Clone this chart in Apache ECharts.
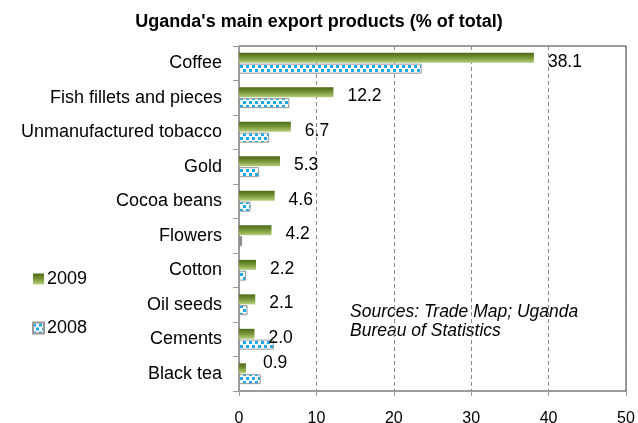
<!DOCTYPE html>
<html>
<head>
<meta charset="utf-8">
<script src="https://cdn.jsdelivr.net/npm/echarts@6/dist/echarts.min.js"></script>
<style>
  html, body { margin: 0; padding: 0; background: #fff; }
  #chart { width: 638px; height: 423px; }
</style>
</head>
<body>
<div id="chart"></div>
<script>
// Uganda's main export products, share of total exports (%)
const categories = [
  'Coffee', 'Fish fillets and pieces', 'Unmanufactured tobacco', 'Gold',
  'Cocoa beans', 'Flowers', 'Cotton', 'Oil seeds', 'Cements', 'Black tea'
];
const values2009 = [38.1, 12.2, 6.7, 5.3, 4.6, 4.2, 2.2, 2.1, 2.0, 0.9];
const values2008 = [23.6, 6.5, 3.9, 2.6, 1.5, 0.4, 0.9, 1.1, 4.5, 2.8];
const xTicks = [0, 10, 20, 30, 40, 50];
const sourceNote = 'Sources: Trade Map; Uganda\nBureau of Statistics';

const FONT = '"Liberation Sans", Arial, sans-serif';

// Dotted fill for the 2008 bars: staggered blue squares on white
function dotPattern() {
  const c = document.createElement('canvas');
  c.width = 6; c.height = 8;
  const g = c.getContext('2d');
  g.fillStyle = '#ffffff';
  g.fillRect(0, 0, 6, 8);
  g.fillStyle = '#1aa8ef';
  g.fillRect(0, 1, 3, 3);
  g.fillRect(3, 5, 3, 3);
  return c;
}

const greenFill = new echarts.graphic.LinearGradient(0, 0, 0, 1, [
  { offset: 0, color: '#4b6817' },
  { offset: 0.5, color: '#7a9838' },
  { offset: 1, color: '#b6d07f' }
]);

const chart = echarts.init(document.getElementById('chart'), null, { renderer: 'canvas' });

const data2009 = values2009.map((v, i) => {
  const item = { value: v };
  if (categories[i] === 'Black tea') {
    item.label = { offset: [3, -5] };
  }
  return item;
});

const data2008 = values2008.map((v, i) => {
  const item = { value: v };
  if (categories[i] === 'Flowers') {
    item.itemStyle = { color: '#8c8c8c', borderColor: '#8c8c8c' };
  }
  return item;
});

chart.setOption({
  animation: false,
  textStyle: { fontFamily: FONT },
  title: {
    text: "Uganda's main export products (% of total)",
    left: 'center',
    top: 8,
    textStyle: { fontFamily: FONT, fontSize: 18, fontWeight: 'bold', color: '#000' }
  },
  legend: {
    orient: 'vertical',
    left: 27,
    top: 265,
    itemGap: 31,
    itemWidth: 11,
    itemHeight: 11,
    icon: 'rect',
    data: ['2009', '2008'],
    textStyle: { fontFamily: FONT, fontSize: 18, color: '#000', padding: [0, 0, 0, -2] }
  },
  grid: {
    left: 239,
    right: 12,
    top: 46,
    bottom: 32,
    show: true,
    borderColor: '#3a3a3a',
    borderWidth: 1,
    containLabel: false,
    outerBoundsMode: 'none'
  },
  xAxis: {
    type: 'value',
    min: 0,
    max: 50,
    interval: 10,
    axisLine: { show: true, lineStyle: { color: '#9a9a9a' } },
    axisTick: { show: true, length: 5, lineStyle: { color: '#9a9a9a' } },
    axisLabel: {
      margin: 20,
      fontSize: 16,
      color: '#000',
      fontFamily: FONT,
      formatter: v => (xTicks.indexOf(v) >= 0 ? String(v) : '')
    },
    splitLine: { show: true, lineStyle: { color: '#8a8a8a', type: [4, 3] } }
  },
  yAxis: {
    type: 'category',
    data: categories,
    inverse: true,
    axisLine: { show: true, lineStyle: { color: '#9a9a9a' } },
    axisTick: { show: true, length: 6, lineStyle: { color: '#9a9a9a' } },
    axisLabel: { margin: 17, fontSize: 18, color: '#000', fontFamily: FONT, padding: [0, 0, 4, 0] }
  },
  series: [
    {
      name: '2009',
      type: 'bar',
      barWidth: 10,
      barGap: '8%',
      data: data2009,
      itemStyle: { color: greenFill },
      label: {
        show: true,
        position: 'right',
        distance: 14,
        offset: [0, 4],
        fontSize: 17.5,
        color: '#000',
        fontFamily: FONT,
        formatter: p => p.value.toFixed(1)
      }
    },
    {
      name: '2008',
      type: 'bar',
      barWidth: 10,
      barGap: '8%',
      data: data2008,
      itemStyle: {
        color: { image: dotPattern(), repeat: 'repeat' },
        borderColor: '#999999',
        borderWidth: 1
      }
    }
  ],
  graphic: [{
    type: 'text',
    left: 350,
    top: 303,
    style: {
      text: sourceNote,
      fontFamily: FONT,
      fontSize: 17.5,
      fontStyle: 'italic',
      lineHeight: 19,
      fill: '#000'
    }
  }]
});
</script>
</body>
</html>
